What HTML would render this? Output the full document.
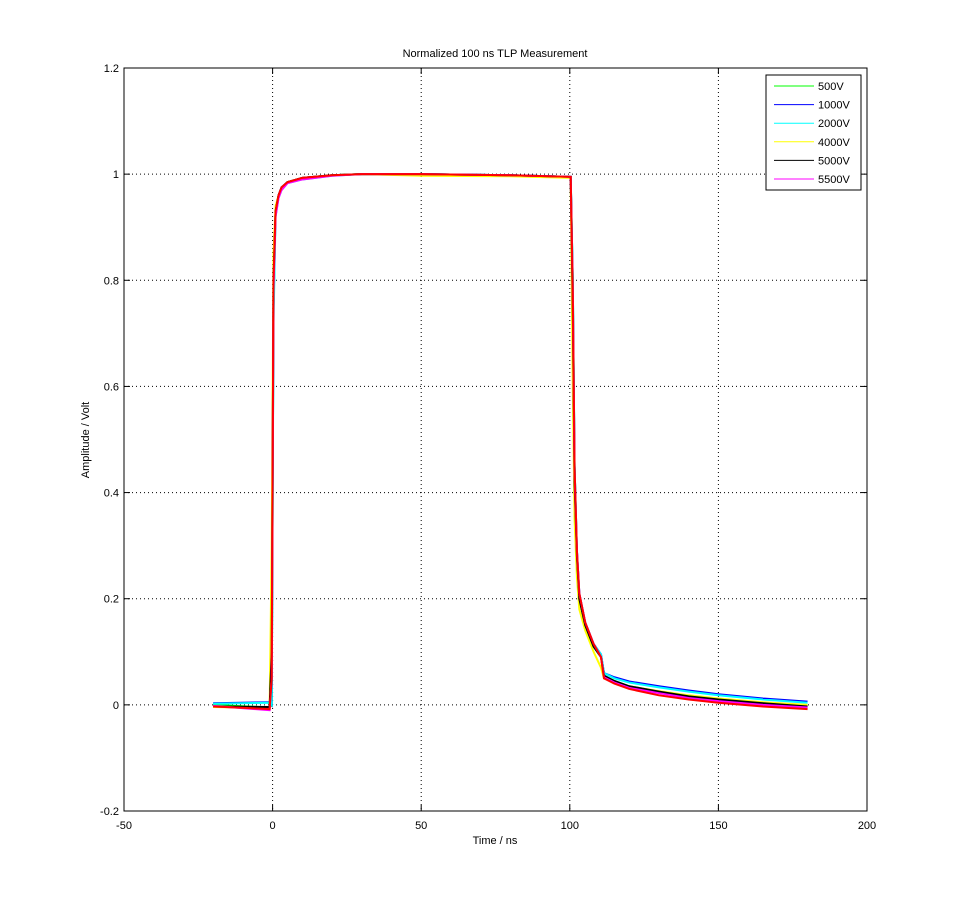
<!DOCTYPE html>
<html><head><meta charset="utf-8"><style>
body{margin:0;background:#fff;font-family:"Liberation Sans",sans-serif}
svg text{font-family:"Liberation Sans",sans-serif;font-size:11px}
</style></head><body>
<svg width="958" height="912" xmlns="http://www.w3.org/2000/svg">
<rect width="958" height="912" fill="#fff"/>
<g id="grid"></g>
<g id="series"></g>
<rect x="124" y="68" width="743" height="743" fill="none" stroke="#000"/>
<g id="ticks"></g>
<text x="495" y="57" text-anchor="middle">Normalized 100 ns TLP Measurement</text>
<text x="495" y="844" text-anchor="middle">Time / ns</text>
<text transform="translate(89,440) rotate(-90)" text-anchor="middle">Amplitude / Volt</text>
<g id="legend"></g>
</svg>
<script>
const xTicks=[-50,0,50,100,150,200];
const yTicks=[-0.2,0,0.2,0.4,0.6,0.8,1,1.2];
const yTickLabels=["-0.2","0","0.2","0.4","0.6","0.8","1","1.2"];
const names=["500V","1000V","2000V","4000V","5000V","5500V","ref"];
const colors=["#00ff00","#0000ff","#00ffff","#ffff00","#000000","#ff00ff","#ff0000"];
const times=[-20,-1,-0.3,0.3,1,2,3,5,10,20,30,50,80,100.3,101,101.6,102.4,103.2,105.2,108,110.5,111.5,115,120,130,140,150,165,180];
const s500=[0,-0.005,0,0.75,0.93,0.96,0.97,0.985,0.992,0.998,1,1,0.998,0.995,0.8,0.45,0.28,0.2,0.15,0.11,0.09,0.055,0.045,0.035,0.025,0.015,0.008,0.0,-0.005];
const s1000=[0.003,0.005,0,0.75,0.93,0.96,0.975,0.985,0.993,0.998,1,1,0.998,0.995,0.8,0.45,0.29,0.21,0.155,0.115,0.095,0.06,0.052,0.044,0.035,0.027,0.02,0.012,0.006];
const s2000=[0.002,0.004,0,0.72,0.92,0.955,0.97,0.983,0.99,0.997,1,1,0.998,0.995,0.8,0.45,0.29,0.21,0.155,0.115,0.095,0.06,0.05,0.042,0.033,0.025,0.018,0.01,0.004];
const s4000=[-0.004,-0.006,0.3,0.85,0.94,0.96,0.97,0.985,0.993,0.998,1,0.997,0.996,0.993,0.6,0.35,0.24,0.18,0.14,0.1,0.07,0.05,0.042,0.035,0.026,0.018,0.012,0.005,0];
const s5000=[-0.003,-0.004,0.1,0.8,0.93,0.96,0.975,0.985,0.993,0.998,1,1,0.998,0.995,0.75,0.42,0.28,0.2,0.15,0.11,0.09,0.055,0.045,0.035,0.025,0.016,0.01,0.003,-0.003];
const s5500=[-0.002,-0.01,0.05,0.78,0.92,0.955,0.97,0.983,0.99,0.997,1,1,0.998,0.995,0.78,0.44,0.29,0.21,0.155,0.115,0.09,0.052,0.042,0.032,0.022,0.013,0.007,0.0,-0.005];
const sRef=[-0.003,-0.008,0.05,0.8,0.93,0.96,0.975,0.985,0.993,0.998,1,1,0.998,0.995,0.78,0.45,0.29,0.21,0.155,0.115,0.09,0.05,0.04,0.03,0.018,0.01,0.004,-0.003,-0.008];
const allSeries=[s500,s1000,s2000,s4000,s5000,s5500,sRef];
const X=v=>124+(v+50)/250*743;
const Y=v=>811-(v+0.2)/1.4*743;
const NS="http://www.w3.org/2000/svg";
function mk(t,a,p){const e=document.createElementNS(NS,t);for(const k in a)e.setAttribute(k,a[k]);p.appendChild(e);return e;}
const grid=document.getElementById('grid'),ticks=document.getElementById('ticks');
xTicks.forEach((t,i)=>{
  if(i>0&&i<xTicks.length-1){const l=mk('line',{x1:X(t),x2:X(t),y1:68,y2:811,stroke:'#000','stroke-dasharray':'1,3'},grid);
  
  }
  mk('line',{x1:X(t),x2:X(t),y1:811,y2:805,stroke:'#000'},ticks);
  mk('line',{x1:X(t),x2:X(t),y1:68,y2:74,stroke:'#000'},ticks);
  const tx=mk('text',{x:X(t),y:829,'text-anchor':'middle'},ticks);tx.textContent=t;
  
  
});
yTicks.forEach((t,i)=>{
  if(i>0&&i<yTicks.length-1){const l=mk('line',{x1:124,x2:867,y1:Y(t),y2:Y(t),stroke:'#000','stroke-dasharray':'1,3'},grid);
  
  }
  mk('line',{x1:124,x2:130,y1:Y(t),y2:Y(t),stroke:'#000'},ticks);
  mk('line',{x1:867,x2:861,y1:Y(t),y2:Y(t),stroke:'#000'},ticks);
  const tx=mk('text',{x:119,y:Y(t)+4,'text-anchor':'end'},ticks);tx.textContent=yTickLabels[i];
  
  
});
const sg=document.getElementById('series');
allSeries.forEach((s,i)=>{
  const p=mk('polyline',{points:s.map((v,j)=>X(times[j])+','+Y(v)).join(' '),fill:'none',stroke:colors[i],'stroke-width':2},sg);
  
  
});
const lg=document.getElementById('legend');
const box=mk('rect',{x:766,y:75,width:95,height:115,fill:'#fff',stroke:'#000'},lg);


for(let i=0;i<6;i++){
  const y=86+i*18.6;
  mk('line',{x1:774,x2:814,y1:y,y2:y,stroke:colors[i]},lg);
  const t=mk('text',{x:818,y:y+4},lg);t.textContent=names[i];
  
  
}
</script>
</body></html>
